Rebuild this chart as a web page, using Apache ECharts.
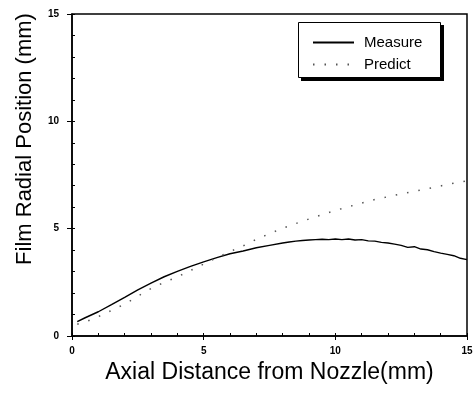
<!DOCTYPE html>
<html>
<head>
<meta charset="utf-8">
<script src="https://cdn.jsdelivr.net/npm/echarts@6/dist/echarts.min.js"></script>
<style>
  html, body { margin: 0; padding: 0; background: #fff; }
  #chart { width: 476px; height: 401px; }
</style>
</head>
<body>
<div id="chart"></div>
<script>
// measured film position
const measureX = [0.2, 0.5, 1, 1.5, 2, 2.5, 3, 3.5, 4, 4.5, 5, 5.5, 6, 6.5, 7, 7.5, 8,
  8.25, 8.5, 8.75, 9, 9.25, 9.5, 9.75, 10, 10.25, 10.5, 10.75, 11, 11.25, 11.5, 11.75,
  12, 12.25, 12.5, 12.75, 13, 13.25, 13.5, 13.75, 14, 14.25, 14.5, 14.75, 15]
const measureY = [0.67, 0.85, 1.13, 1.46, 1.80, 2.15, 2.46, 2.76, 3.01, 3.24, 3.45, 3.65, 3.83, 3.96, 4.11, 4.22, 4.33,
  4.38, 4.42, 4.45, 4.47, 4.49, 4.51, 4.49, 4.52, 4.49, 4.52, 4.47, 4.49, 4.43, 4.42, 4.36,
  4.33, 4.28, 4.22, 4.13, 4.16, 4.05, 4.02, 3.93, 3.86, 3.80, 3.74, 3.62, 3.56]
// predicted film position
const predictX = [0.2, 0.5, 1, 1.5, 2, 2.5, 3, 3.5, 4, 4.5, 5, 5.5, 6, 6.5, 7, 7.5, 8,
  8.5, 9, 9.5, 10, 10.5, 11, 11.5, 12, 12.5, 13, 13.5, 14, 14.5, 15]
const predictY = [0.55, 0.65, 0.90, 1.19, 1.49, 1.85, 2.21, 2.50, 2.75, 3.05, 3.35, 3.65, 3.93, 4.20, 4.50, 4.77, 5.02,
  5.24, 5.45, 5.65, 5.85, 6.02, 6.19, 6.36, 6.49, 6.62, 6.74, 6.86, 6.99, 7.12, 7.22]

const pairs = (xs, ys) => xs.map((x, i) => [x, ys[i]])
const font = 'Liberation Sans, Arial, sans-serif'

const chart = echarts.init(document.getElementById('chart'))
chart.setOption({
  animation: false,
  backgroundColor: '#fff',
  grid: {
    left: 72, right: 9, top: 14, bottom: 65,
    show: true, borderColor: '#000', borderWidth: 1.5
  },
  legend: {
    left: 298, top: 22,
    orient: 'vertical',
    itemWidth: 41, itemHeight: 14, itemGap: 7,
    padding: [13, 16, 8, 14],
    itemStyle: { opacity: 0 },
    textStyle: { fontFamily: font, fontSize: 15, color: '#000', padding: [0, 0, 0, 5] },
    data: ['Measure', 'Predict'],
    z: 10
  },
  xAxis: [
    {
      type: 'value', min: 0, max: 15, interval: 5,
      name: 'Axial Distance from Nozzle(mm)',
      nameLocation: 'middle', nameGap: 23,
      nameTextStyle: { fontFamily: font, fontSize: 23, color: '#000' },
      axisLine: { lineStyle: { color: '#000', width: 1.5 } },
      axisTick: { length: 4, lineStyle: { color: '#000' } },
      axisLabel: { fontFamily: font, fontSize: 10, fontWeight: 'bold', color: '#000', margin: 10 },
      splitLine: { show: false }
    },
    {
      type: 'value', min: 0, max: 15, interval: 1, position: 'bottom',
      axisLine: { show: false },
      axisTick: { inside: true, length: 3, lineStyle: { color: '#000' } },
      axisLabel: { show: false },
      splitLine: { show: false }
    }
  ],
  yAxis: [
    {
      type: 'value', min: 0, max: 15, interval: 5,
      axisLine: { lineStyle: { color: '#000', width: 1.5 } },
      axisTick: { length: 5, lineStyle: { color: '#000' } },
      axisLabel: { fontFamily: font, fontSize: 10, fontWeight: 'bold', color: '#000', margin: 13 },
      splitLine: { show: false }
    },
    {
      type: 'value', min: 0, max: 15, interval: 1, position: 'left',
      axisLine: { show: false },
      axisTick: { inside: true, length: 3, lineStyle: { color: '#000' } },
      axisLabel: { show: false },
      splitLine: { show: false }
    }
  ],
  graphic: [
    {
      // y axis title
      type: 'text',
      x: 25, y: 139,
      rotation: Math.PI / 2,
      style: {
        text: 'Film Radial Position (mm)',
        font: '22px ' + font,
        fill: '#000',
        textAlign: 'center',
        textVerticalAlign: 'middle'
      }
    },
    {
      // legend drop shadow
      type: 'rect',
      z: 5,
      shape: { x: 301, y: 25, width: 143, height: 56 },
      style: { fill: '#000' }
    },
    {
      // legend box
      type: 'rect',
      z: 6,
      shape: { x: 298.5, y: 22.5, width: 142, height: 55 },
      style: { fill: '#fff', stroke: '#000', lineWidth: 1 }
    }
  ],
  series: [
    {
      name: 'Measure',
      type: 'line',
      data: pairs(measureX, measureY),
      symbol: 'none',
      lineStyle: { color: '#000', width: 1.4 },
      itemStyle: { color: '#000' }
    },
    {
      name: 'Predict',
      type: 'line',
      data: pairs(predictX, predictY),
      symbol: 'none',
      lineStyle: { color: '#555', width: 1.5, type: [1.5, 10] },
      itemStyle: { color: '#555' }
    }
  ]
})
</script>
</body>
</html>
